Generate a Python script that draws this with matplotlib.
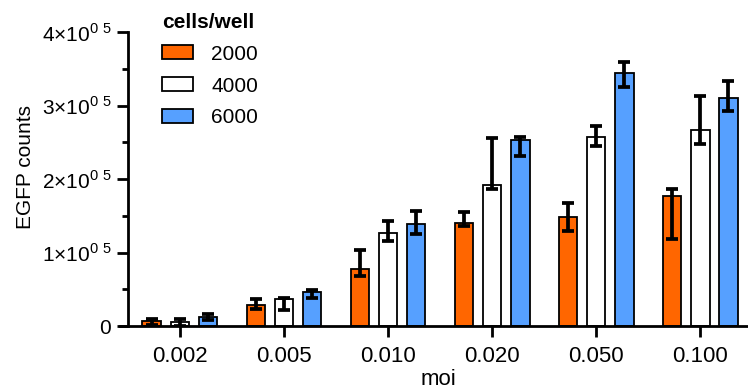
import numpy as np
import matplotlib.pyplot as plt
from matplotlib.ticker import MultipleLocator

plt.rcParams['font.family'] = ['Liberation Sans', 'DejaVu Sans']
plt.rcParams['mathtext.fontset'] = 'custom'
plt.rcParams['mathtext.rm'] = 'Liberation Sans'

moi = ["0.002", "0.005", "0.010", "0.020", "0.050", "0.100"]
series = ["2000", "4000", "6000"]
colors = ["#FF6600", "#FFFFFF", "#56A0FF"]

mean = [
    [7200, 29000, 78000, 140000, 148000, 177000],
    [5000, 36700, 127000, 192000, 257600, 266700],
    [11800, 46300, 139200, 252600, 344200, 310200],
]
err_lo = [
    [5700, 5000, 10400, 4000, 18300, 59000],
    [5000, 14900, 11000, 5000, 12700, 19100],
    [3100, 7800, 13200, 20900, 19500, 17700],
]
err_hi = [
    [2300, 7300, 25400, 15000, 19200, 9000],
    [4500, 1300, 15900, 63400, 14100, 46700],
    [4200, 2700, 17300, 4900, 15400, 23100],
]

fig = plt.figure(figsize=(7.48, 3.92), dpi=100)
ax = fig.add_axes([0.171, 0.168, 0.829, 0.75])

x = np.arange(len(moi))
w = 0.18
off = 0.27
for i in range(3):
    ax.bar(x + (i - 1) * off, mean[i], w, color=colors[i], edgecolor="black",
           linewidth=1.3, label=series[i], zorder=2)
    ax.errorbar(x + (i - 1) * off, mean[i], yerr=[err_lo[i], err_hi[i]],
                fmt="none", ecolor="black", elinewidth=2.7, capsize=4.5,
                capthick=2.7, zorder=3)

ax.set_xlim(-0.5, 5.46)
ax.set_ylim(0, 4e5)
ax.set_xticks(x)
ax.set_xticklabels(moi, fontsize=16)
yt = [0, 1e5, 2e5, 3e5, 4e5]
ax.set_yticks(yt)
ax.set_yticklabels(["0"] + [r"$%d{\times}10^{0\ 5}$" % k for k in range(1, 5)], fontsize=15)
ax.yaxis.set_minor_locator(MultipleLocator(5e4))

for s in ["top", "right"]:
    ax.spines[s].set_visible(False)
ax.spines["left"].set_linewidth(2)
ax.spines["bottom"].set_linewidth(2)
ax.spines["bottom"].set_bounds(-0.58, 5.46)
ax.tick_params(axis="both", which="major", length=8, width=2, direction="out")
ax.tick_params(axis="y", which="minor", length=4, width=2)
ax.tick_params(axis="x", pad=6)
ax.tick_params(axis="y", pad=4)

ax.set_xlabel("moi", fontsize=16, labelpad=2)
ax.set_ylabel("EGFP counts", fontsize=15)
ax.yaxis.set_label_coords(-0.15, 0.54)

leg = ax.legend(title="cells/well", loc="upper left", bbox_to_anchor=(0.025, 1.13),
                frameon=False, fontsize=15, handlelength=1.5, handleheight=0.65,
                labelspacing=0.62, handletextpad=0.85)
leg.get_title().set_fontweight("bold")
leg.get_title().set_fontsize(15)
leg._legend_box.align = "left"

fig.savefig("out.png", dpi=100)
